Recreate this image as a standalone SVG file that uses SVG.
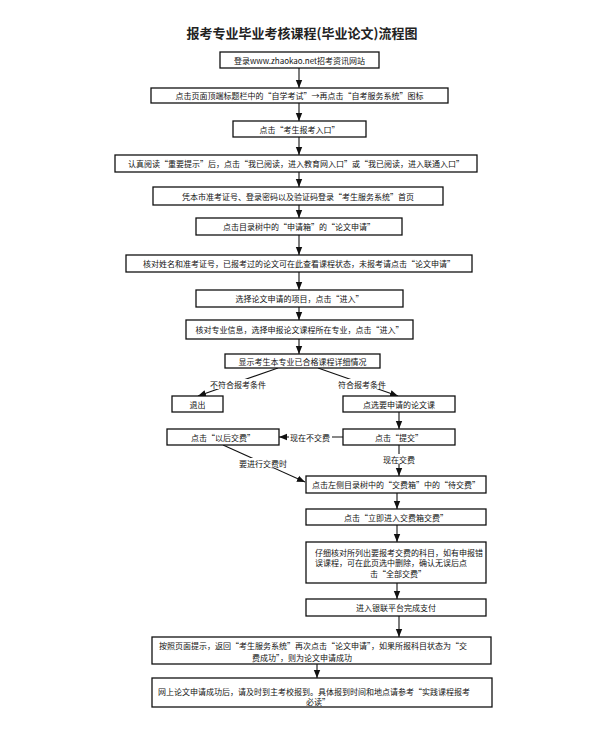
<svg xmlns="http://www.w3.org/2000/svg" width="614" height="729" viewBox="0 0 614 729">
<style>
.bx{fill:#fff;stroke:#111;stroke-width:1.3}
.t{font-family:"Noto Sans CJK SC","Liberation Sans",sans-serif;font-size:8px;fill:#111;text-anchor:middle;dominant-baseline:central}
.ts{font-family:"Noto Sans CJK SC","Liberation Sans",sans-serif;font-size:8px;fill:#111;text-anchor:start;dominant-baseline:central}
.ln{fill:none;stroke:#111;stroke-width:1.1}
.lb{font-family:"Noto Sans CJK SC","Liberation Sans",sans-serif;font-size:8px;fill:#111;text-anchor:middle;dominant-baseline:central}
</style>
<defs>
<marker id="ah" markerUnits="userSpaceOnUse" markerWidth="8" markerHeight="8" viewBox="0 0 8 8" refX="8" refY="4" orient="auto">
<path d="M0,0.8 L8,4 L0,7.2 Z" fill="#111"/>
</marker>
</defs>
<rect width="614" height="729" fill="#fff"/>
<text x="302" y="32" font-family="Noto Sans CJK SC, Liberation Sans, sans-serif" font-size="13" font-weight="bold" fill="#222" text-anchor="middle" dominant-baseline="central">报考专业毕业考核课程(毕业论文)流程图</text>

<g id="connectors">
<line class="ln" x1="299" y1="68" x2="299" y2="88" marker-end="url(#ah)"/>
<line class="ln" x1="299" y1="103" x2="299" y2="121" marker-end="url(#ah)"/>
<line class="ln" x1="299" y1="137" x2="299" y2="155" marker-end="url(#ah)"/>
<line class="ln" x1="299" y1="172" x2="299" y2="187" marker-end="url(#ah)"/>
<line class="ln" x1="299" y1="205" x2="299" y2="218" marker-end="url(#ah)"/>
<line class="ln" x1="299" y1="235" x2="299" y2="255" marker-end="url(#ah)"/>
<line class="ln" x1="299" y1="272" x2="299" y2="290" marker-end="url(#ah)"/>
<line class="ln" x1="299" y1="307" x2="299" y2="320" marker-end="url(#ah)"/>
<line class="ln" x1="299" y1="339" x2="299" y2="354" marker-end="url(#ah)"/>
<line class="ln" x1="278" y1="368" x2="198" y2="396" marker-end="url(#ah)"/>
<rect x="209" y="379" width="58" height="10" fill="#fff"/>
<text class="lb" x="238" y="384">不符合报考条件</text>
<line class="ln" x1="318" y1="368" x2="398" y2="396" marker-end="url(#ah)"/>
<rect x="337" y="379" width="50" height="10" fill="#fff"/>
<text class="lb" x="362" y="384">符合报考条件</text>
<line class="ln" x1="399" y1="412" x2="399" y2="429" marker-end="url(#ah)"/>
<line class="ln" x1="343" y1="437" x2="279" y2="437" marker-end="url(#ah)"/>
<rect x="289" y="432" width="43" height="10" fill="#fff"/>
<text class="lb" x="310" y="437">现在不交费</text>
<line class="ln" x1="223" y1="445" x2="305" y2="482" marker-end="url(#ah)"/>
<rect x="238" y="458" width="50" height="10" fill="#fff"/>
<text class="lb" x="263" y="463">要进行交费时</text>
<line class="ln" x1="399" y1="445" x2="399" y2="476" marker-end="url(#ah)"/>
<rect x="383" y="454" width="33" height="10" fill="#fff"/>
<text class="lb" x="399" y="459">现在交费</text>
<line class="ln" x1="397" y1="493" x2="397" y2="509" marker-end="url(#ah)"/>
<line class="ln" x1="397" y1="525" x2="397" y2="542" marker-end="url(#ah)"/>
<line class="ln" x1="397" y1="583" x2="397" y2="599" marker-end="url(#ah)"/>
<line class="ln" x1="399" y1="616" x2="399" y2="637" marker-end="url(#ah)"/>
<line class="ln" x1="317" y1="664" x2="317" y2="678" marker-end="url(#ah)"/>
</g>

<g id="n1"><rect class="bx" x="220" y="52" width="159" height="16"/><text class="t" x="299.5" y="60">登录www.zhaokao.net招考资讯网站</text></g>
<g id="n2"><rect class="bx" x="151" y="88" width="297" height="15"/><text class="t" x="299.5" y="95.5">点击页面顶端标题栏中的“自学考试”→再点击“自考服务系统”图标</text></g>
<g id="n3"><rect class="bx" x="233" y="121" width="133" height="16"/><text class="t" x="299.5" y="129">点击“考生报考入口”</text></g>
<g id="n4"><rect class="bx" x="115" y="155" width="362" height="17"/><text class="t" x="296" y="163.5">认真阅读“重要提示”后，点击“我已阅读，进入教育网入口”或“我已阅读，进入联通入口”</text></g>
<g id="n5"><rect class="bx" x="153" y="187" width="290" height="18"/><text class="t" x="298" y="196">凭本市准考证号、登录密码以及验证码登录“考生服务系统”首页</text></g>
<g id="n6"><rect class="bx" x="196" y="218" width="206" height="17"/><text class="t" x="299" y="226.5">点击目录树中的“申请箱”的“论文申请”</text></g>
<g id="n7"><rect class="bx" x="126" y="255" width="346" height="17"/><text class="t" x="299" y="263.5">核对姓名和准考证号，已报考过的论文可在此查看课程状态，未报考请点击“论文申请”</text></g>
<g id="n8"><rect class="bx" x="196" y="290" width="207" height="17"/><text class="t" x="299.5" y="298.5">选择论文申请的项目，点击“进入”</text></g>
<g id="n9"><rect class="bx" x="186" y="320" width="227" height="19"/><text class="t" x="299.5" y="329.5">核对专业信息，选择申报论文课程所在专业，点击“进入”</text></g>
<g id="n10"><rect class="bx" x="225" y="354" width="155" height="14"/><text class="t" x="302.5" y="361">显示考生本专业已合格课程详细情况</text></g>
<g id="n11"><rect class="bx" x="172" y="396" width="51" height="16"/><text class="t" x="197.5" y="404">退出</text></g>
<g id="n12"><rect class="bx" x="343" y="396" width="112" height="16"/><text class="t" x="399" y="404">点选要申请的论文课</text></g>
<g id="n13"><rect class="bx" x="343" y="429" width="112" height="16"/><text class="t" x="399" y="437">点击“提交”</text></g>
<g id="n14"><rect class="bx" x="167" y="429" width="112" height="16"/><text class="t" x="223" y="437">点击“以后交费”</text></g>
<g id="n15"><rect class="bx" x="306" y="476" width="180" height="17"/><text class="t" x="396" y="484.5">点击左侧目录树中的“交费箱”中的“待交费”</text></g>
<g id="n16"><rect class="bx" x="306" y="509" width="180" height="16"/><text class="t" x="396" y="517">点击“立即进入交费箱交费”</text></g>
<g id="n17"><rect class="bx" x="306" y="542" width="180" height="41"/>
<text class="ts" x="315" y="552">仔细核对所列出要报考交费的科目，如有申报错</text>
<text class="ts" x="315" y="562.5">误课程，可在此页选中删除，确认无误后点</text>
<text class="t" x="398" y="573">击“全部交费”</text></g>
<g id="n18"><rect class="bx" x="306" y="599" width="180" height="17"/><text class="t" x="396" y="607.5">进入银联平台完成支付</text></g>
<g id="n19"><rect class="bx" x="152" y="637" width="339" height="27"/>
<text class="ts" x="159" y="645">按照页面提示，返回“考生服务系统”再次点击“论文申请”，如果所报科目状态为“交</text>
<text class="t" x="302" y="657">费成功”，则为论文申请成功</text></g>
<g id="n20"><rect class="bx" x="152" y="678" width="340" height="29"/>
<text class="ts" x="158" y="691">网上论文申请成功后，请及时到主考校报到。具体报到时间和地点请参考“实践课程报考</text>
<text class="t" x="318" y="701">必读”</text></g>
</svg>
